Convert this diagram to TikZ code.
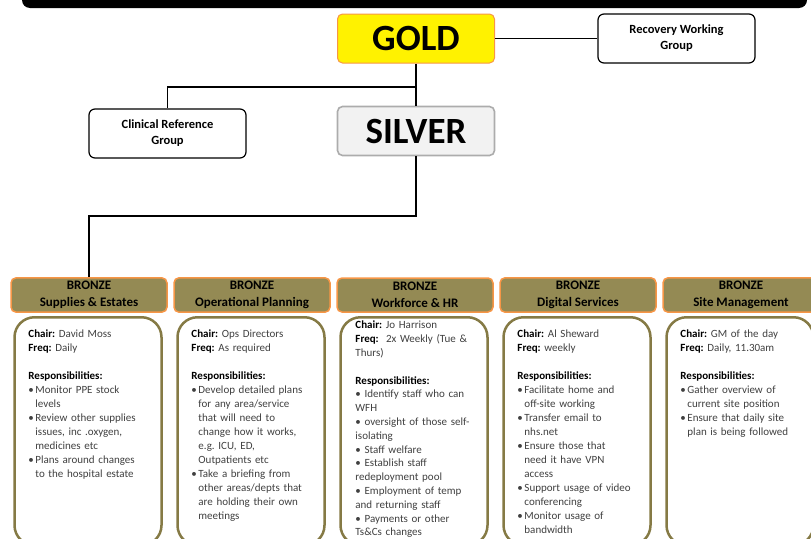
\documentclass[tikz,border=0pt]{standalone}
\usepackage{fontspec}
\setmainfont{Carlito}
\usepackage{xcolor}
\usepackage{tikz}
\usetikzlibrary{positioning, calc}
\definecolor{olivefill}{HTML}{948A54}
\definecolor{orangeedge}{HTML}{F79646}
\definecolor{dutyedge}{HTML}{857A45}
\newcommand{\bul}{\makebox[7pt][l]{\textbullet}}
\newcommand{\ind}{\hspace*{7pt}}
\newcommand{\lab}[1]{\textbf{\color{black}#1}}
\tikzset{
    link/.style={line width=1.6pt},
    level/.style={draw, rounded corners=5pt, minimum width=157pt, minimum height=49pt,
        font=\bfseries\fontsize{37}{37}\selectfont},
    gold/.style={level, fill=yellow, draw=orangeedge, line width=1pt},
    silver/.style={level, fill=gray!10, draw=gray!65, line width=1.6pt},
    group/.style={draw, line width=1.2pt, rounded corners=6pt, fill=white, minimum width=157pt,
        minimum height=49pt, align=center, font=\bfseries\fontsize{12.5}{16}\selectfont},
    bronze/.style={draw=orangeedge, fill=olivefill, line width=1.5pt, rounded corners=5pt,
        minimum width=156pt, minimum height=34pt, align=center, font=\bfseries\fontsize{13}{17}\selectfont},
    duty/.style={draw=dutyedge, line width=2.5pt, rounded corners=20pt, fill=white, anchor=north,
        minimum width=147pt, minimum height=228pt},
    dutytext/.style={inner sep=0pt, anchor=north west, text width=135pt, align=left,
        text=black!75, font=\fontsize{11}{14}\selectfont\frenchspacing},
}
\begin{document}
\begin{tikzpicture}[x=1pt, y=-1pt]
        \useasboundingbox (0,0) rectangle (811,538);
        \fill[black, rounded corners=8pt] (22,-20) rectangle (807,8);
        \node[gold] (gold) at (416,38.5) {GOLD};
        \node[silver] (silver) at (416,131) {SILVER};
        \node[group] (recovery) at (676.5,38.5) {Recovery Working\\Group};
        \node[group] (clinical) at (167.5,133.5) {Clinical Reference\\Group};
        \coordinate (split) at (416,87);
        \coordinate (fork) at (416,216);
        \foreach \i/\name [evaluate={\x=89+163*(\i-1)}] in {1/Supplies \& Estates, 2/Operational Planning,
            3/Workforce \& HR, 4/Digital Services, 5/Site Management} {
            \node[bronze] (head\i) at (\x,295) {BRONZE\\\name};
            \node[duty] (duty\i) at (\x-1,316) {};
        };
        \draw[link] (gold) -- (recovery);
        \draw[link] (gold) -- (silver);
        \draw[link] (split) -| (clinical);
        \draw[link] (silver) -- (fork) -| (head1);
        \node[dutytext, below right=14pt and 15pt of duty1.north west] (text1) {%
            \lab{Chair:} David Moss\\ \lab{Freq:} Daily\\[14pt] \lab{Responsibilities:}\\
            \bul Monitor PPE stock\\ \ind levels\\ \bul Review other supplies\\ \ind issues, inc .oxygen,\\
            \ind medicines etc\\ \bul Plans around changes\\ \ind to the hospital estate};
        \node[dutytext, below right=14pt and 15pt of duty2.north west] (text2) {%
            \lab{Chair:} Ops Directors\\ \lab{Freq:} As required\\[14pt] \lab{Responsibilities:}\\
            \bul Develop detailed plans\\ \ind for any area/service\\ \ind that will need to\\
            \ind change how it works,\\ \ind e.g. ICU, ED,\\ \ind Outpatients etc\\
            \bul Take a briefing from\\ \ind other areas/depts that\\ \ind are holding their own\\ \ind meetings};
        \node[dutytext, below right=5pt and 16pt of duty3.north west, font=\fontsize{11}{13.8}\selectfont\frenchspacing] (text3) {%
            \lab{Chair:} Jo Harrison\\ \lab{Freq:}\ \ 2x Weekly (Tue \&\\ Thurs)\\[13.8pt] \lab{Responsibilities:}\\
            \textbullet{} Identify staff who can\\ WFH\\ \textbullet{} oversight of those self-\\ isolating\\
            \textbullet{} Staff welfare\\ \textbullet{} Establish staff\\ redeployment pool\\
            \textbullet{} Employment of temp\\ and returning staff\\ \textbullet{} Payments or other\\ Ts\&Cs changes};
        \node[dutytext, below right=14pt and 15pt of duty4.north west] (text4) {%
            \lab{Chair:} Al Sheward\\ \lab{Freq:} weekly\\[14pt] \lab{Responsibilities:}\\
            \bul Facilitate home and\\ \ind off-site working\\ \bul Transfer email to\\ \ind nhs.net\\
            \bul Ensure those that\\ \ind need it have VPN\\ \ind access\\ \bul Support usage of video\\
            \ind conferencing\\ \bul Monitor usage of\\ \ind bandwidth};
        \node[dutytext, below right=14pt and 15pt of duty5.north west] (text5) {%
            \lab{Chair:} GM of the day\\ \lab{Freq:} Daily, 11.30am\\[14pt] \lab{Responsibilities:}\\
            \bul Gather overview of\\ \ind current site position\\ \bul Ensure that daily site\\
            \ind plan is being followed};
    \end{tikzpicture}
\end{document}
